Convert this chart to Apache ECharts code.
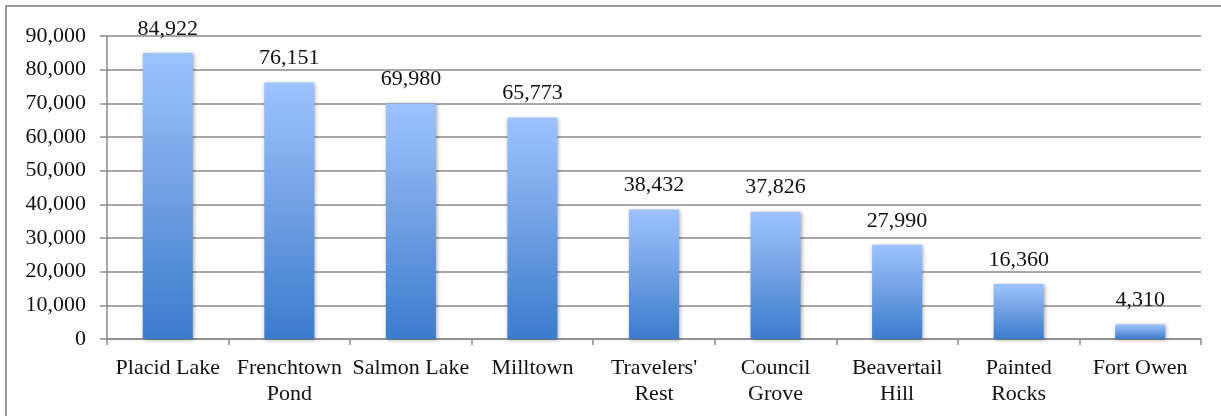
<!DOCTYPE html>
<html>
<head>
<meta charset="utf-8">
<script src="https://cdn.jsdelivr.net/npm/echarts@6/dist/echarts.min.js"></script>
<style>html,body{margin:0;padding:0;background:#fff;}#c{width:1221px;height:416px;}</style>
</head>
<body>
<div id="c"></div>
<script>
const categories = ["Placid Lake", "Frenchtown\nPond", "Salmon Lake", "Milltown", "Travelers'\nRest", "Council\nGrove", "Beavertail\nHill", "Painted\nRocks", "Fort Owen"];
const values = [84922, 76151, 69980, 65773, 38432, 37826, 27990, 16360, 4310];
const yTicks = { min: 0, max: 90000, interval: 10000 };

const FONT = '"Liberation Serif", "DejaVu Serif", serif';
const chart = echarts.init(document.getElementById('c'), null, { renderer: 'canvas' });
const fmt = v => Number(v).toLocaleString('en-US');
chart.setOption({
  animation: false,
  backgroundColor: '#fff',
  graphic: [{
    type: 'rect', silent: true, z: -1,
    shape: { x: 6, y: 6, width: 1400, height: 600 },
    style: { fill: 'none', stroke: '#9a9a9a', lineWidth: 2 }
  }],
  grid: { left: 107, top: 36, right: 20, bottom: 77, containLabel: false },
  xAxis: {
    type: 'category',
    data: categories,
    axisLine: { show: true, lineStyle: { color: '#8a8a8a', width: 1.5 } },
    axisTick: { show: true, length: 6, alignWithLabel: false, lineStyle: { color: '#8a8a8a', width: 1.5 } },
    axisLabel: { interval: 0, color: '#111', fontFamily: FONT, fontSize: 22, lineHeight: 26, margin: 16 }
  },
  yAxis: {
    type: 'value',
    min: yTicks.min, max: yTicks.max, interval: yTicks.interval,
    axisLine: { show: true, lineStyle: { color: '#8a8a8a', width: 1.5 } },
    axisTick: { show: true, length: 7, lineStyle: { color: '#8a8a8a', width: 1.5 } },
    splitLine: { show: true, lineStyle: { color: '#8a8a8a', width: 1.5 } },
    axisLabel: { color: '#111', fontFamily: FONT, fontSize: 22, margin: 21, formatter: fmt }
  },
  series: [{
    type: 'bar',
    data: values,
    barWidth: 50,
    itemStyle: {
      color: new echarts.graphic.LinearGradient(0, 0, 0, 1, [
        { offset: 0, color: '#9dc3ff' },
        { offset: 0.5, color: '#6f9fe4' },
        { offset: 1, color: '#3a7ccc' }
      ]),
      shadowBlur: 4, shadowColor: 'rgba(0,0,0,0.35)', shadowOffsetX: 1, shadowOffsetY: 1
    },
    label: {
      show: true, position: 'top', distance: 13,
      color: '#111', fontFamily: FONT, fontSize: 22,
      formatter: p => fmt(p.value)
    }
  }]
});
</script>
</body>
</html>
